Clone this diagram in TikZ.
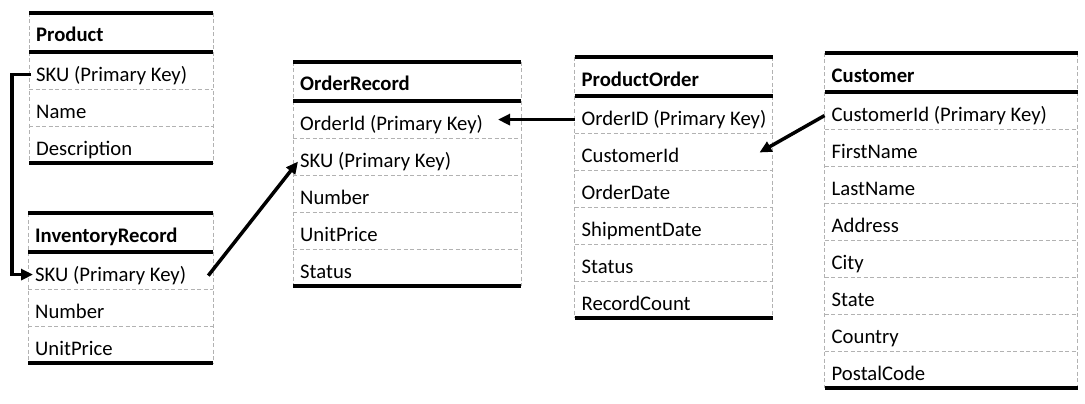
\documentclass[tikz,border=0pt]{standalone}
\usepackage{fontspec}
\setmainfont{Carlito}
\usetikzlibrary{arrows.meta}
\tikzset{
  fld/.style={anchor=base west, inner sep=2pt, font=\fontsize{20.7}{24}\selectfont},
  hdr/.style={fld, font=\fontsize{20.7}{24}\selectfont\bfseries},
  thickrule/.style={line width=3.4pt, draw=black},
  seprule/.style={line width=0.8pt, draw=black!30, dash pattern=on 4pt off 2.5pt},
  conn/.style={line width=3.5pt, draw=black, -{Triangle[length=12pt,width=11pt]}},
}
\newcommand\erdtab[7]{%
  \pgfmathsetmacro\tbot{#3+39+37*#6}
  \draw[seprule] (#2,#3) -- (#2,\tbot) (#2+#4,#3) -- (#2+#4,\tbot);
  \node[hdr] (#1-h) at (#2+5, #3+29) {#5};
  \foreach \r [count=\i] in {#7} {
    \node[fld] (#1-\i) at (#2+5, {#3+39+37*(\i-1)+29.5}) {\r};
    \coordinate (#1-\i-r) at (#2+#4, {#3+39+37*(\i-1)+23.5});
    \ifnum\i<#6 \draw[seprule] (#2, {#3+39+37*\i}) -- ++(#4,0); \fi
  }
  \draw[thickrule] (#2,#3) -- ++(#4,0) (#2,#3+39) -- ++(#4,0) (#2,\tbot) -- ++(#4,0);
}
\begin{document}
\begin{tikzpicture}[x=1pt, y=-1pt]
\useasboundingbox (0,0) rectangle (1085,404);
\erdtab{product}{29}{13}{184}{Product}{3}{SKU (Primary Key),Name,Description}
\erdtab{inventory}{28}{213}{185}{InventoryRecord}{3}{SKU (Primary Key),Number,UnitPrice}
\erdtab{orderrec}{293}{62}{228}{OrderRecord}{5}{OrderId (Primary Key),SKU (Primary Key),Number,UnitPrice,Status}
\erdtab{prodorder}{574.5}{57}{198}{ProductOrder}{6}{OrderID (Primary Key),CustomerId,OrderDate,ShipmentDate,Status,RecordCount}
\erdtab{customer}{824.5}{53}{253}{Customer}{8}{CustomerId (Primary Key),FirstName,LastName,Address,City,State,Country,PostalCode}
% connectors
\coordinate (poStart) at ([xshift=-5pt]prodorder-1.west);
\coordinate (orEnd) at ([xshift=-23pt]orderrec-1-r);
\draw[conn] ([xshift=-3pt,yshift=1pt]product-1.west) -- ++(-19,0) |- ([yshift=1pt]inventory-1.west);
\draw[conn] ([xshift=20pt]inventory-1.east) -- (orderrec-2.west);
\draw[conn] (poStart) -- (orEnd |- poStart);
\draw[conn] ([xshift=-5pt]customer-1.west) -- ([xshift=-13pt,yshift=4pt]prodorder-2-r);
\end{tikzpicture}
\end{document}
